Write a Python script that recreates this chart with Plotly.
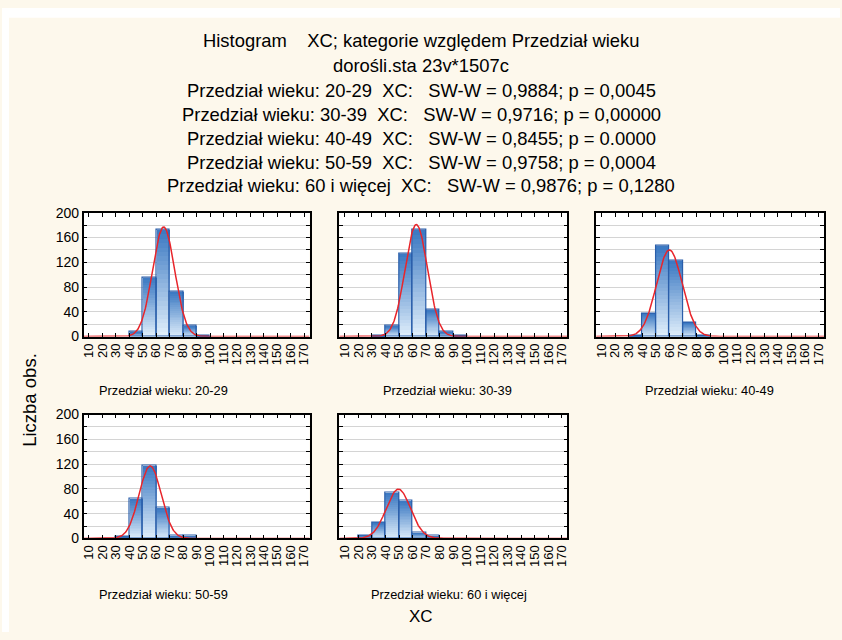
import numpy as np
import plotly.graph_objects as go

# ---------------- data ----------------
bin_edges_left = [10, 20, 30, 40, 50, 60, 70, 80, 90, 100, 110, 120, 130, 140, 150, 160]
bin_width = 10
tick_labels = [10, 20, 30, 40, 50, 60, 70, 80, 90, 100, 110, 120, 130, 140, 150, 160, 170]

groups = ["Przedział wieku: 20-29", "Przedział wieku: 30-39", "Przedział wieku: 40-49",
          "Przedział wieku: 50-59", "Przedział wieku: 60 i więcej"]
counts_20_29 = [0, 0, 0, 7, 95, 173, 73, 17, 1, 0, 0, 0, 0, 0, 0, 0]
counts_30_39 = [0, 0, 1, 17, 134, 172, 43, 7, 1, 0, 0, 0, 0, 0, 0, 0]
counts_40_49 = [0, 0, 1, 37, 147, 122, 23, 2, 0, 0, 0, 0, 0, 0, 0, 0]
counts_50_59 = [0, 0, 3, 64, 118, 49, 4, 4, 0, 0, 0, 0, 0, 0, 0, 0]
counts_60_up = [0, 5, 26, 74, 61, 9, 4, 0, 0, 0, 0, 0, 0, 0, 0, 0]
all_counts = [counts_20_29, counts_30_39, counts_40_49, counts_50_59, counts_60_up]
# fitted normal parameters
fit_mean = [65.5, 62.7, 60.0, 55.5, 49.5]
fit_sd = [8.25, 8.27, 9.47, 8.25, 8.98]

title_lines = [
    "Histogram    XC; kategorie względem Przedział wieku",
    "dorośli.sta 23v*1507c",
    "Przedział wieku: 20-29  XC:   SW-W = 0,9884; p = 0,0045",
    "Przedział wieku: 30-39  XC:   SW-W = 0,9716; p = 0,00000",
    "Przedział wieku: 40-49  XC:   SW-W = 0,8455; p = 0.0000",
    "Przedział wieku: 50-59  XC:   SW-W = 0,9758; p = 0,0004",
    "Przedział wieku: 60 i więcej  XC:   SW-W = 0,9876; p = 0,1280",
]

# ---------------- layout geometry (pixels) ----------------
W, H = 842, 640
cols_px = [(82, 309), (339, 568), (597, 826)]
rows_px = [(210, 337), (417, 544)]
panel_pos = [(0, 0), (0, 1), (0, 2), (1, 0), (1, 1)]
label_centers = [(162, 392), (448, 392), (711, 392), (162, 602), (449, 602)]

FONT = "Liberation Sans, Arial, sans-serif"
top_col = np.array([0x3a, 0x78, 0xc2])
bot_col = np.array([0xe2, 0xf0, 0xfc])
K = 24

fig = go.Figure()
layout_axes = {}
bar_centers = [e + bin_width / 2 for e in bin_edges_left]

for i, counts in enumerate(all_counts):
    r, c = panel_pos[i]
    xa = "x" if i == 0 else f"x{i+1}"
    ya = "y" if i == 0 else f"y{i+1}"
    cnt = np.array(counts, dtype=float)
    xs = [bar_centers[j] for j in range(len(cnt)) if cnt[j] > 0]
    cs = np.array([cnt[j] for j in range(len(cnt)) if cnt[j] > 0])
    # gradient slices
    for k in range(K):
        t = (k + 0.5) / K
        col = bot_col + (top_col - bot_col) * t
        colstr = f"rgb({int(col[0])},{int(col[1])},{int(col[2])})"
        fig.add_trace(go.Bar(x=xs, y=cs / K * 1.02, base=cs * k / K, width=bin_width,
                             marker=dict(color=colstr, line=dict(width=0)),
                             xaxis=xa, yaxis=ya, showlegend=False, hoverinfo="skip"))
    # outline
    fig.add_trace(go.Bar(x=xs, y=cs, base=0, width=bin_width,
                         marker=dict(color="rgba(0,0,0,0)", line=dict(color="#2a5eaa", width=1.2)),
                         xaxis=xa, yaxis=ya, showlegend=False))
    # fitted normal curve
    N = cnt.sum()
    xc = np.linspace(6, 174, 400)
    yc = N * bin_width / (fit_sd[i] * np.sqrt(2 * np.pi)) * np.exp(-0.5 * ((xc - fit_mean[i]) / fit_sd[i]) ** 2)
    fig.add_trace(go.Scatter(x=xc, y=yc, mode="lines", line=dict(color="#e8252b", width=1.5),
                             xaxis=xa, yaxis=ya, showlegend=False))

    x0, x1 = cols_px[c]
    y0, y1 = rows_px[r]
    xkey = "xaxis" if i == 0 else f"xaxis{i+1}"
    ykey = "yaxis" if i == 0 else f"yaxis{i+1}"
    layout_axes[xkey] = dict(
        domain=[x0 / W, x1 / W], anchor=ya, range=[6, 174],
        tickvals=tick_labels, ticktext=[str(v) for v in tick_labels], tickangle=-90,
        ticks="inside", ticklen=4, tickcolor="black", mirror="allticks",
        showline=True, linecolor="black", linewidth=1.5, showgrid=False, zeroline=False,
        tickfont=dict(family=FONT, size=13, color="black"), fixedrange=True)
    ytv = list(range(0, 201, 20))
    show_lbl = (c == 0)
    layout_axes[ykey] = dict(
        domain=[1 - y1 / H, 1 - y0 / H], anchor=xa, range=[0, 200],
        tickvals=ytv, ticktext=[(str(v) if (v % 40 == 0 and show_lbl) else "") for v in ytv],
        ticks="inside", ticklen=4, tickcolor="black", mirror="allticks",
        showline=True, linecolor="black", linewidth=1.5,
        showgrid=True, gridcolor="#d4d4d4", gridwidth=1.2, zeroline=False,
        tickfont=dict(family=FONT, size=14, color="black"), fixedrange=True)

annotations = []
title_y = [33, 59, 85, 109, 134, 158, 182]
for txt, yy in zip(title_lines, title_y):
    annotations.append(dict(text=txt, x=421 / W, y=1 - yy / H, xref="paper", yref="paper",
                            xanchor="center", yanchor="middle", showarrow=False,
                            font=dict(family=FONT, size=18.4, color="black")))
for g, (cx, cy) in zip(groups, label_centers):
    annotations.append(dict(text=g, x=cx / W, y=1 - cy / H, xref="paper", yref="paper",
                            xanchor="center", yanchor="middle", showarrow=False,
                            font=dict(family=FONT, size=12.8, color="black")))
annotations.append(dict(text="XC", x=421 / W, y=1 - 624 / H, xref="paper", yref="paper",
                        xanchor="center", yanchor="middle", showarrow=False,
                        font=dict(family=FONT, size=17, color="black")))
annotations.append(dict(text="Liczba obs.", x=28 / W, y=1 - 402 / H, xref="paper", yref="paper",
                        xanchor="center", yanchor="middle", showarrow=False, textangle=-90,
                        font=dict(family=FONT, size=18.5, color="black")))

fig.update_layout(
    width=W, height=H, margin=dict(l=0, r=0, t=0, b=0),
    paper_bgcolor="#fdf8ec", plot_bgcolor="white",
    barmode="overlay", bargap=0,
    annotations=annotations,
    shapes=[
        dict(type="rect", xref="paper", yref="paper", x0=0, x1=1, y0=1 - 10 / H, y1=1,
             fillcolor="white", line=dict(width=0), layer="below"),
        dict(type="rect", xref="paper", yref="paper", x0=0, x1=7 / W, y0=0, y1=1,
             fillcolor="white", line=dict(width=0), layer="below"),
    ],
    **layout_axes,
)

fig.write_html("out.html")
